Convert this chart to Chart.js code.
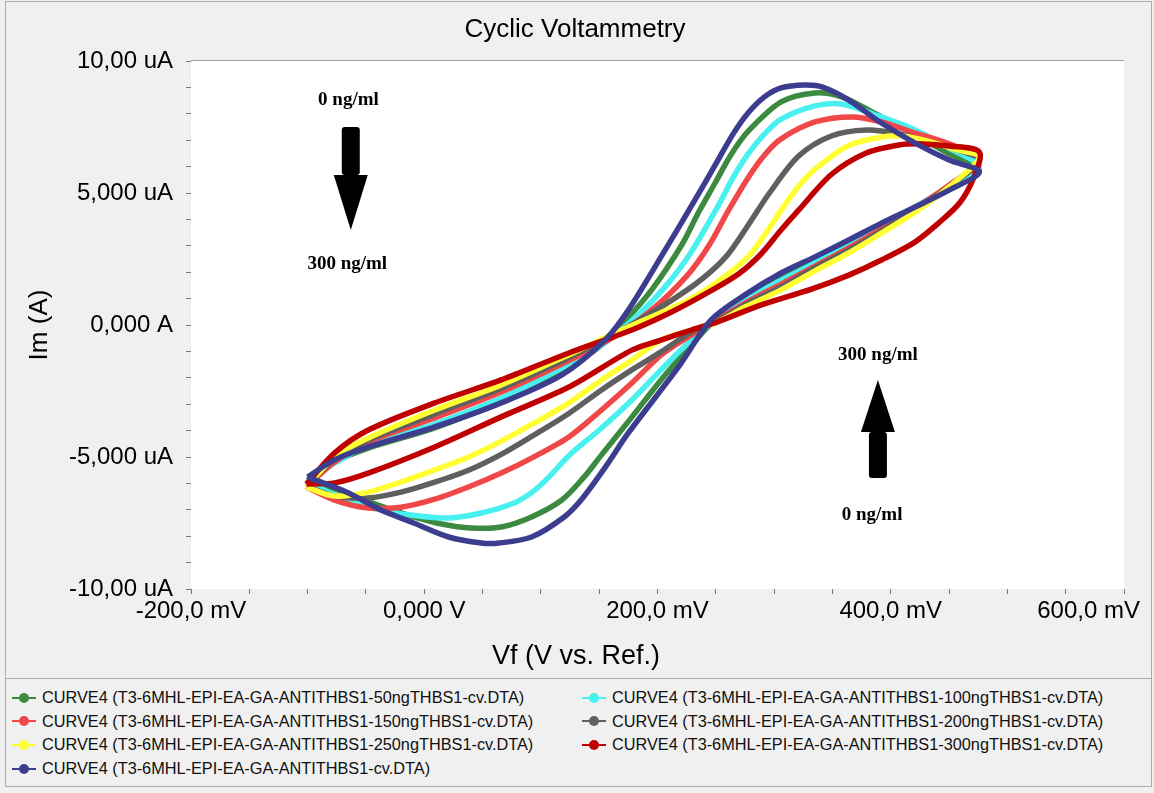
<!DOCTYPE html>
<html lang="en">
<head>
<meta charset="UTF-8">
<title>Cyclic Voltammetry</title>
<script src="https://cdn.jsdelivr.net/npm/chart.js"></script>
<style>
  body { margin: 0; background: #f0f0f0; font-family: "Liberation Sans", Arial, sans-serif; }
  #frame { position: relative; width: 1154px; height: 793px; overflow: hidden; }
  #border { position: absolute; left: 5px; top: 1px; width: 1147px; height: 786px; border: 1px solid #ababab; box-sizing: border-box; }
  #cv { position: absolute; left: 0; top: 0; }
  #legend { position: absolute; left: 6px; top: 678px; width: 1145px; height: 108px; border-top: 1px solid #ababab;
            box-sizing: border-box; padding-top: 7px; display: grid; grid-template-columns: 570px 1fr;
            grid-auto-rows: 23.6px; font-size: 16.3px; color: #111; }
  .item { display: flex; align-items: center; white-space: nowrap; }
  .mark { position: relative; width: 24px; height: 10px; margin: 0 6px; flex: none; }
  .mark .ln { position: absolute; left: 0; right: 0; top: 4px; height: 2px; }
  .mark .dot { position: absolute; left: 7px; top: 0; width: 10px; height: 10px; border-radius: 50%; }
</style>
</head>
<body>
<div id="frame">
  <div id="border"></div>
  <canvas id="cv" width="1154" height="672"></canvas>
  <div id="legend"></div>
</div>

<script>
// potential (mV) / current (uA) pairs, forward scan then reverse scan
const cv50 = [[-100,-5.87],[-77,-5.19],[-48,-4.66],[9,-3.90],[66,-2.88],[118,-1.74],[152,-0.76],[173,0.19],[195,1.33],[221,3.05],[235,4.25],[249,5.35],[263,6.45],[278,7.35],[306,8.45],[335,8.79],[358,8.64],[384,8.07],[421,7.20],[450,6.48],[476,5.87],
  [450,5.15],[421,4.47],[392,3.79],[364,3.11],[335,2.46],[306,1.82],[275,1.02],[251,0.27],[229,-0.76],[203,-2.08],[178,-3.49],[152,-4.92],[137,-5.76],[118,-6.63],[92,-7.27],[66,-7.65],[40,-7.69],[15,-7.54],[-11,-7.24],[-37,-6.86],[-67,-6.36],[-100,-5.87]];
const cv100 = [[-100,-5.95],[-77,-5.23],[-48,-4.55],[9,-3.75],[66,-2.77],[118,-1.63],[156,-0.64],[186,0.49],[208,1.52],[229,2.77],[253,4.60],[265,5.60],[278,6.50],[292,7.25],[306,7.80],[335,8.30],[358,8.37],[392,7.88],[421,7.39],[450,6.70],[476,5.99],
  [450,5.23],[421,4.47],[392,3.75],[364,3.03],[335,2.35],[306,1.70],[275,0.95],[251,0.27],[229,-0.57],[203,-1.70],[178,-2.84],[152,-3.90],[124,-4.95],[106,-5.80],[92,-6.35],[77,-6.74],[49,-7.12],[21,-7.31],[-11,-7.20],[-37,-7.01],[-67,-6.63],[-100,-5.95]];
const cv150 = [[-101,-6.14],[-77,-5.19],[-48,-4.43],[9,-3.52],[66,-2.54],[118,-1.48],[161,-0.49],[195,0.57],[225,1.85],[244,3.00],[261,4.35],[278,5.60],[292,6.45],[306,7.05],[335,7.69],[367,7.88],[392,7.69],[421,7.27],[450,6.86],[476,6.25],
  [450,5.30],[421,4.43],[392,3.64],[364,2.92],[335,2.23],[306,1.55],[275,0.83],[251,0.19],[229,-0.38],[203,-1.14],[178,-2.20],[152,-3.22],[124,-4.24],[92,-5.04],[66,-5.61],[40,-6.10],[9,-6.60],[-20,-6.90],[-48,-6.93],[-77,-6.63],[-101,-6.14]];
const cv200 = [[-101,-6.10],[-77,-5.08],[-48,-4.36],[9,-3.37],[66,-2.39],[118,-1.36],[165,-0.30],[199,0.57],[234,1.60],[259,2.60],[278,3.80],[296,5.00],[321,6.40],[349,7.16],[379,7.39],[407,7.24],[435,6.89],[457,6.63],[476,6.25],
  [450,5.23],[421,4.36],[392,3.56],[364,2.84],[335,2.16],[306,1.44],[275,0.76],[251,0.15],[229,-0.27],[203,-1.02],[178,-1.70],[152,-2.46],[124,-3.35],[94,-4.17],[66,-4.90],[38,-5.50],[9,-5.95],[-20,-6.33],[-48,-6.55],[-77,-6.48],[-101,-6.10]];
const cv250 = [[-101,-6.14],[-77,-5.00],[-48,-4.28],[9,-3.22],[66,-2.27],[118,-1.25],[169,-0.19],[229,1.00],[255,1.75],[278,2.60],[294,3.55],[306,4.35],[320,5.20],[335,5.90],[364,6.80],[392,7.12],[410,7.16],[435,6.93],[457,6.63],[476,6.36],
  [450,5.23],[421,4.28],[392,3.48],[364,2.73],[335,2.05],[306,1.33],[275,0.68],[251,0.11],[229,-0.19],[203,-0.57],[178,-1.33],[152,-2.08],[124,-2.95],[94,-3.72],[66,-4.40],[38,-5.00],[9,-5.49],[-20,-5.95],[-48,-6.33],[-77,-6.48],[-101,-6.14]];
const cv300 = [[-101,-6.02],[-77,-4.85],[-48,-3.98],[9,-2.95],[66,-2.08],[124,-1.06],[178,-0.19],[212,0.49],[246,1.30],[270,1.95],[289,2.70],[305,3.55],[321,4.35],[349,5.70],[378,6.50],[407,6.82],[427,6.86],[450,6.78],[476,6.55],
  [471,5.57],[459,4.62],[442,3.90],[421,3.15],[392,2.46],[364,1.89],[332,1.36],[289,0.76],[251,0.11],[229,-0.19],[203,-0.57],[178,-0.95],[124,-2.35],[66,-3.48],[9,-4.62],[-48,-5.61],[-77,-5.98],[-101,-6.02]];
const cv0 = [[-100,-5.76],[-77,-5.11],[-48,-4.62],[9,-3.86],[66,-2.95],[118,-1.89],[155,-0.57],[175,0.57],[203,2.58],[232,4.73],[250,6.10],[265,7.25],[278,8.05],[292,8.65],[306,8.98],[326,9.09],[341,9.02],[364,8.52],[392,7.65],[421,6.89],[450,6.25],[476,5.80],
  [450,5.11],[421,4.47],[392,3.86],[364,3.22],[335,2.58],[306,1.97],[275,1.14],[246,0.19],[218,-1.59],[175,-4.09],[155,-5.40],[135,-6.60],[120,-7.27],[92,-8.03],[64,-8.26],[49,-8.26],[21,-8.03],[-9,-7.50],[-37,-7.01],[-65,-6.36],[-100,-5.76]];

const seriesNames = [
  'CURVE4 (T3-6MHL-EPI-EA-GA-ANTITHBS1-50ngTHBS1-cv.DTA)',
  'CURVE4 (T3-6MHL-EPI-EA-GA-ANTITHBS1-100ngTHBS1-cv.DTA)',
  'CURVE4 (T3-6MHL-EPI-EA-GA-ANTITHBS1-150ngTHBS1-cv.DTA)',
  'CURVE4 (T3-6MHL-EPI-EA-GA-ANTITHBS1-200ngTHBS1-cv.DTA)',
  'CURVE4 (T3-6MHL-EPI-EA-GA-ANTITHBS1-250ngTHBS1-cv.DTA)',
  'CURVE4 (T3-6MHL-EPI-EA-GA-ANTITHBS1-300ngTHBS1-cv.DTA)',
  'CURVE4 (T3-6MHL-EPI-EA-GA-ANTITHBS1-cv.DTA)'
];
const seriesData = [cv50, cv100, cv150, cv200, cv250, cv300, cv0];
const seriesColors = ['#3b8a3f', '#48f0f0', '#f04848', '#5f5f5f', '#ffff33', '#c00000', '#3d3d8f'];
const drawOrder = [6, 5, 4, 3, 2, 1, 0];   // lower = drawn on top

const xTickValues = [-200, 0, 200, 400, 600];
const xTickLabels = ['-200,0 mV', '0,000 V', '200,0 mV', '400,0 mV', '600,0 mV'];
const yTickValues = [-10, -5, 0, 5, 10];
const yTickLabels = ['-10,00 uA', '-5,000 uA', '0,000 A', '5,000 uA', '10,00 uA'];

// arrow annotations (data units)
const noteTexts = ['0 ng/ml', '300 ng/ml', '300 ng/ml', '0 ng/ml'];
const notePotentials = [-65, -66, 389, 384];
const noteCurrents = [8.52, 2.31, -1.14, -7.20];
const arrowPotentials = [-63, 389];
const arrowTails = [7.5, -5.8];
const arrowHeadBases = [5.68, -4.05];
const arrowTips = [3.6, -2.08];

const FONT = '"Liberation Sans", Arial, sans-serif';

// white plot area with a thin top edge
const plotBackground = {
  id: 'plotBackground',
  beforeDraw(chart) {
    const { ctx, chartArea: a } = chart;
    ctx.save();
    ctx.fillStyle = '#ffffff';
    ctx.fillRect(a.left, a.top, a.right - a.left, a.bottom - a.top);
    ctx.strokeStyle = '#a0a0a0';
    ctx.lineWidth = 1;
    ctx.beginPath();
    ctx.moveTo(a.left, a.top - 0.5);
    ctx.lineTo(a.right, a.top - 0.5);
    ctx.stroke();
    ctx.restore();
  }
};

// chart title, x labels and x title (centred on the whole window like the original)
const frameText = {
  id: 'frameText',
  afterDraw(chart) {
    const { ctx, width } = chart;
    const xs = chart.scales.x;
    ctx.save();
    ctx.fillStyle = '#000';
    ctx.textBaseline = 'middle';
    ctx.textAlign = 'center';
    ctx.font = '26px ' + FONT;
    ctx.fillText('Cyclic Voltammetry', width / 2 - 2, 30);
    ctx.font = '27px ' + FONT;
    ctx.fillText('Vf (V vs. Ref.)', width / 2 - 1, 657);
    ctx.font = '24px ' + FONT;
    xTickValues.forEach((v, i) => {
      const w = ctx.measureText(xTickLabels[i]).width;
      const px = Math.min(xs.getPixelForValue(v), width - 14 - w / 2);
      ctx.fillText(xTickLabels[i], px, xs.bottom - 61);
    });
    ctx.restore();
  }
};

const concentrationArrows = {
  id: 'concentrationArrows',
  afterDatasetsDraw(chart) {
    const { ctx, scales: { x, y } } = chart;
    ctx.save();
    ctx.fillStyle = '#000';
    arrowPotentials.forEach((p, i) => {
      const cx = x.getPixelForValue(p);
      const yTail = y.getPixelForValue(arrowTails[i]);
      const yBase = y.getPixelForValue(arrowHeadBases[i]);
      const yTip = y.getPixelForValue(arrowTips[i]);
      const sw = 9, hw = 17;
      ctx.beginPath();
      ctx.roundRect(cx - sw, Math.min(yTail, yBase), sw * 2, Math.abs(yBase - yTail), 3);
      ctx.fill();
      ctx.beginPath();
      ctx.moveTo(cx - hw, yBase);
      ctx.lineTo(cx + hw, yBase);
      ctx.lineTo(cx, yTip);
      ctx.closePath();
      ctx.fill();
    });
    ctx.font = 'bold 19px "Liberation Serif", "Times New Roman", serif';
    ctx.textAlign = 'center';
    ctx.textBaseline = 'middle';
    noteTexts.forEach((t, i) => {
      ctx.fillText(t, x.getPixelForValue(notePotentials[i]), y.getPixelForValue(noteCurrents[i]));
    });
    ctx.restore();
  }
};

const datasets = seriesData.map((pts, i) => ({
  label: seriesNames[i],
  data: pts.map(p => ({ x: p[0], y: p[1] })),
  showLine: true,
  borderColor: seriesColors[i],
  backgroundColor: seriesColors[i],
  borderWidth: 5.5,
  pointRadius: 0,
  tension: 0.3,
  order: drawOrder[i]
}));

new Chart(document.getElementById('cv'), {
  type: 'scatter',
  data: { datasets },
  options: {
    responsive: false,
    animation: false,
    layout: { padding: { left: 0, right: 30, top: 61, bottom: 0 } },
    plugins: { legend: { display: false }, tooltip: { enabled: false } },
    scales: {
      x: {
        min: -200, max: 600,
        afterFit: s => { s.height = 83; },
        border: { display: false },
        grid: { drawOnChartArea: false, tickLength: 5, color: '#7a7a7a' },
        ticks: { display: false, stepSize: 50 }
      },
      y: {
        min: -10, max: 10,
        afterFit: s => { s.width = 191; },
        border: { display: false },
        grid: { drawOnChartArea: false, tickLength: 5, color: '#7a7a7a' },
        ticks: {
          stepSize: 1, autoSkip: false, padding: 13, color: '#000',
          font: { size: 24, family: FONT },
          callback: v => { const k = yTickValues.indexOf(v); return k < 0 ? '' : yTickLabels[k]; }
        },
        title: { display: true, text: 'Im (A)', color: '#000', font: { size: 26, family: FONT }, padding: { top: 24, bottom: 0 } }
      }
    }
  },
  plugins: [plotBackground, frameText, concentrationArrows]
});

// legend below the chart, two columns
const legend = document.getElementById('legend');
seriesNames.forEach((name, i) => {
  const item = document.createElement('div');
  item.className = 'item';
  item.innerHTML = `<span class="mark"><span class="ln" style="background:${seriesColors[i]}"></span>` +
    `<span class="dot" style="background:${seriesColors[i]}"></span></span><span>${name}</span>`;
  legend.appendChild(item);
});
</script>
</body>
</html>
